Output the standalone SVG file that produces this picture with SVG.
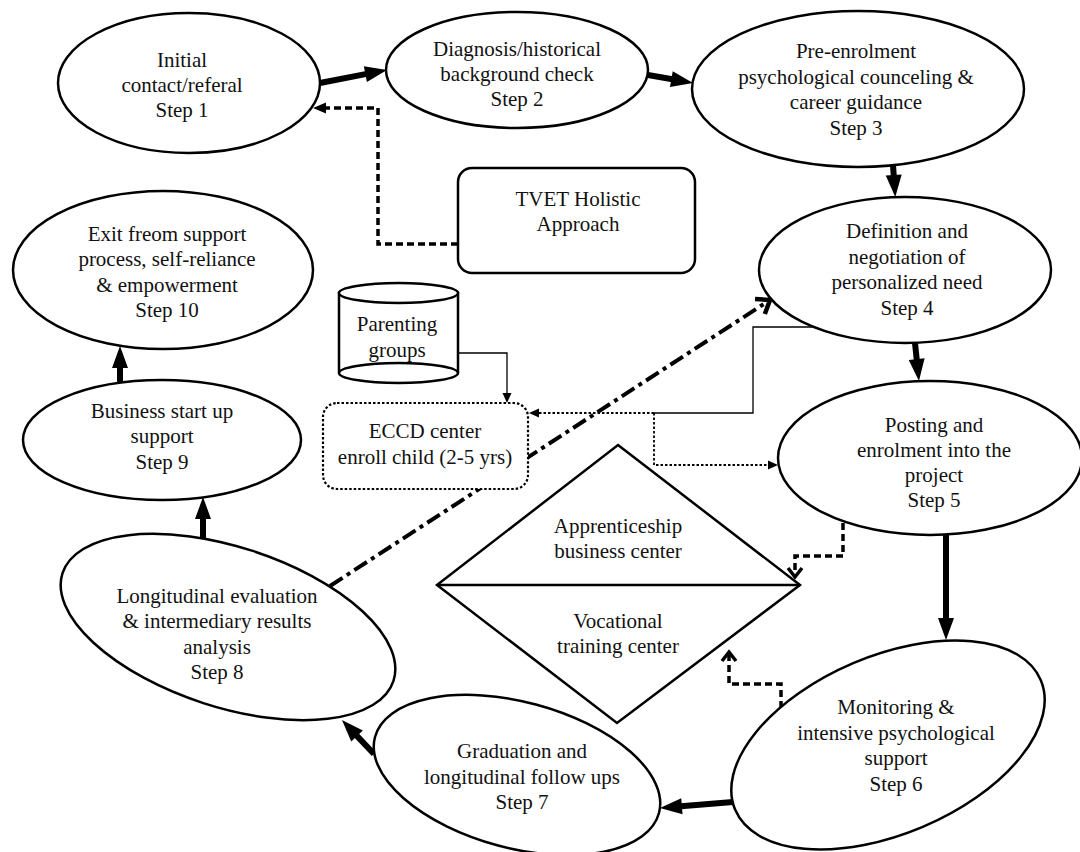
<svg xmlns="http://www.w3.org/2000/svg" width="1080" height="852" viewBox="0 0 1080 852">
<style>
text { font-family: "Liberation Serif", "Times New Roman", serif; font-size: 21px; fill: #111; text-anchor: middle; }
.node { fill: #fff; stroke: #000; stroke-width: 2.5; }
.ecc { fill: #fff; stroke: #000; stroke-width: 2.2; stroke-dasharray: 2.5 2; }
.thick { stroke: #000; stroke-width: 6; fill: none; marker-end: url(#mThick); }
.dash { stroke: #000; stroke-width: 3.5; stroke-dasharray: 7 4; fill: none; }
.dot { stroke: #000; stroke-width: 1.8; stroke-dasharray: 2.5 2; fill: none; marker-end: url(#mTriS); }
.thin { stroke: #000; stroke-width: 1.3; fill: none; }
.dashdot { stroke: #000; stroke-width: 4; stroke-dasharray: 15 5 4 5; fill: none; marker-end: url(#mChevBig); }
</style>
<defs>
<marker id="mThick" markerUnits="userSpaceOnUse" markerWidth="26" markerHeight="18" refX="4" refY="8" orient="auto" overflow="visible"><path d="M0,0 L22,8 L0,16 Z" fill="#000"/></marker>
<marker id="mTriD" markerUnits="userSpaceOnUse" markerWidth="15" markerHeight="13" refX="1" refY="5.5" orient="auto" overflow="visible"><path d="M0,0 L13,5.5 L0,11 Z" fill="#000"/></marker>
<marker id="mTriS" markerUnits="userSpaceOnUse" markerWidth="12" markerHeight="10" refX="0" refY="4.5" orient="auto" overflow="visible"><path d="M0,0 L10,4.5 L0,9 Z" fill="#000"/></marker>
<marker id="mChev" markerUnits="userSpaceOnUse" markerWidth="16" markerHeight="18" refX="11" refY="8" orient="auto" overflow="visible"><path d="M2,1 L11,8 L2,15" fill="none" stroke="#000" stroke-width="3.5"/></marker>
<marker id="mChevBig" markerUnits="userSpaceOnUse" markerWidth="18" markerHeight="22" refX="13" refY="10" orient="auto" overflow="visible"><path d="M1,1 L13,10 L1,19" fill="none" stroke="#000" stroke-width="4.5"/></marker>
</defs>

<g id="connectors">
  <path class="thick" d="M320,83 L369.3,73.4"/>
  <path class="thick" d="M648,75 L675.3,79.8"/>
  <path class="thick" d="M893,165 L894,179"/>
  <path class="thick" d="M915,343 L917.1,363.1"/>
  <path class="thick" d="M946,535 L946,622"/>
  <path class="thick" d="M733,802 L677.9,806.5"/>
  <path class="thick" d="M374,754 L354.3,733.1"/>
  <path class="thick" d="M203,538 L203,515"/>
  <path class="thick" d="M120,383 L120,364"/>
  <path class="dash" d="M458,244 H378 V108 H325" marker-end="url(#mTriD)"/>
  <path class="dash" d="M843,523 V556 H795 V577" marker-end="url(#mChev)"/>
  <path class="dash" d="M781,708 V684 H729 V652" marker-end="url(#mChev)"/>
  <path class="thin" d="M458,353 H507 V393" marker-end="url(#mTriS)"/>
  <path class="thin" d="M812,327 H753 V413 H654"/>
  <path class="dot" d="M654,413 H539"/>
  <path class="dot" d="M654,413 V465 H768"/>
  <path class="dashdot" d="M330,586 L770,300"/>
</g>

<g id="step1">
  <ellipse class="node" cx="189" cy="83" rx="131" ry="70"/>
  <text x="182" y="67">Initial</text>
  <text x="182" y="92">contact/referal</text>
  <text x="182" y="117">Step 1</text>
</g>
<g id="step2">
  <ellipse class="node" cx="517" cy="70" rx="131" ry="58"/>
  <text x="517" y="56">Diagnosis/historical</text>
  <text x="517" y="81">background check</text>
  <text x="517" y="106">Step 2</text>
</g>
<g id="step3">
  <ellipse class="node" cx="858" cy="89" rx="166" ry="78"/>
  <text x="856" y="58">Pre-enrolment</text>
  <text x="856" y="84">psychological counceling &amp;</text>
  <text x="856" y="109">career guidance</text>
  <text x="856" y="135">Step 3</text>
</g>
<g id="tvet">
  <rect class="node" x="458" y="168" width="237" height="105" rx="14"/>
  <text x="578" y="206">TVET Holistic</text>
  <text x="578" y="231">Approach</text>
</g>
<g id="step4">
  <ellipse class="node" cx="905" cy="270" rx="146" ry="73"/>
  <text x="907" y="238">Definition and</text>
  <text x="907" y="264">negotiation of</text>
  <text x="907" y="289">personalized need</text>
  <text x="907" y="315">Step 4</text>
</g>
<g id="step5">
  <ellipse class="node" cx="930" cy="458" rx="152" ry="77"/>
  <text x="934" y="432">Posting and</text>
  <text x="934" y="457">enrolment into the</text>
  <text x="934" y="482">project</text>
  <text x="934" y="507">Step 5</text>
</g>
<g id="step6">
  <ellipse class="node" cx="888" cy="745" rx="166" ry="89" transform="rotate(-23 888 745)"/>
  <text x="896" y="714">Monitoring &amp;</text>
  <text x="896" y="740">intensive psychological</text>
  <text x="896" y="765">support</text>
  <text x="896" y="791">Step 6</text>
</g>
<g id="step7">
  <ellipse class="node" cx="517" cy="775" rx="147" ry="73" transform="rotate(15 517 775)"/>
  <text x="522" y="758">Graduation and</text>
  <text x="522" y="784">longitudinal follow ups</text>
  <text x="522" y="809">Step 7</text>
</g>
<g id="step8">
  <ellipse class="node" cx="228" cy="627" rx="174" ry="80" transform="rotate(18 228 627)"/>
  <text x="217" y="603">Longitudinal evaluation</text>
  <text x="217" y="628">&amp; intermediary results</text>
  <text x="217" y="654">analysis</text>
  <text x="217" y="679">Step 8</text>
</g>
<g id="step9">
  <ellipse class="node" cx="162" cy="440" rx="139" ry="60"/>
  <text x="162" y="418">Business start up</text>
  <text x="162" y="443">support</text>
  <text x="162" y="469">Step 9</text>
</g>
<g id="step10">
  <ellipse class="node" cx="163" cy="270" rx="150" ry="79"/>
  <text x="167" y="241">Exit freom support</text>
  <text x="167" y="266">process, self-reliance</text>
  <text x="167" y="292">&amp; empowerment</text>
  <text x="167" y="317">Step 10</text>
</g>
<g id="parenting">
  <path class="node" d="M339,293 V373 A59.5,10 0 0 0 458,373 V293 Z"/>
  <ellipse class="node" cx="398.5" cy="293" rx="59.5" ry="10"/>
  <path d="M339,373 A59.5,10 0 0 1 458,373" fill="none" stroke="#000" stroke-width="2.5"/>
  <text x="397" y="331">Parenting</text>
  <text x="397" y="357">groups</text>
</g>
<g id="eccd">
  <rect class="ecc" x="323" y="403" width="205" height="86" rx="14"/>
  <text x="425" y="438">ECCD center</text>
  <text x="425" y="464">enroll child (2-5 yrs)</text>
</g>
<g id="centers">
  <polygon class="node" points="618,445 800,585 617,723 437,585"/>
  <line x1="437" y1="585" x2="800" y2="585" stroke="#000" stroke-width="2.5"/>
  <text x="618" y="533">Apprenticeship</text>
  <text x="618" y="558">business center</text>
  <text x="618" y="628">Vocational</text>
  <text x="618" y="653">training center</text>
</g>
</svg>
